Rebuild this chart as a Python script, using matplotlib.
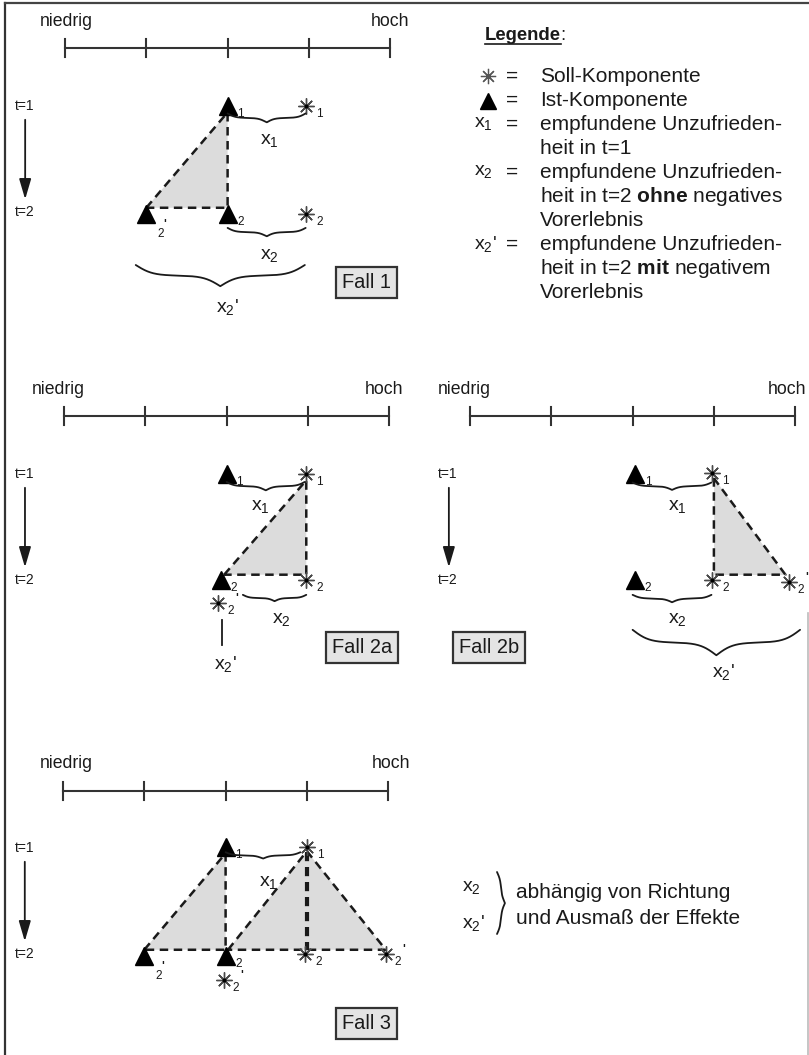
import numpy as np
import matplotlib
matplotlib.use("Agg")
import matplotlib.pyplot as plt

plt.rcParams['font.family'] = ['Liberation Sans', 'DejaVu Sans']
plt.rcParams['mathtext.fontset'] = 'custom'
plt.rcParams['mathtext.rm'] = 'Liberation Sans'
plt.rcParams['mathtext.it'] = 'Liberation Sans'
plt.rcParams['mathtext.bf'] = 'Liberation Sans:bold'

# ---------------- data ----------------
SCALE_TICKS = [0, 1, 2, 3, 4]
SCALE_LOW, SCALE_HIGH = "niedrig", "hoch"
TIME_LABELS = ["t=1", "t=2"]

# Fall 1
F1_IST_X = [2.0, 2.0, 1.0]
F1_IST_T = [1.0, 2.02, 2.02]
F1_IST_SUB = ["1", "2", "2'"]
F1_SOLL_X = [2.97, 2.97]
F1_SOLL_T = [1.0, 2.02]
F1_SOLL_SUB = ["1", "2"]
F1_AREA_X = [[1.0, 2.0, 2.0]]
F1_AREA_T = [[1.96, 1.06, 1.96]]
F1_BRACES = [(2.0, 2.96, 1.07, 0.085), (2.0, 2.96, 2.15, 0.08), (0.87, 2.95, 2.5, 0.2)]
F1_BRACE_LBL = ["x_1", "x_2", "x_2'"]
F1_BRACE_LBL_X = [2.52, 2.52, 2.0]
F1_BRACE_LBL_T = [1.33, 2.415, 2.9]

# Fall 2a
F2A_IST_X = [2.0, 1.93]
F2A_IST_T = [1.0, 2.0]
F2A_IST_SUB = ["1", "2"]
F2A_SOLL_X = [2.98, 2.98, 1.9]
F2A_SOLL_T = [1.0, 2.0, 2.22]
F2A_SOLL_SUB = ["1", "2", "2'"]
F2A_AREA_X = [[1.97, 2.98, 2.98]]
F2A_AREA_T = [[1.95, 1.06, 1.95]]
F2A_BRACES = [(2.0, 2.96, 1.075, 0.08), (2.2, 2.98, 2.14, 0.06)]
F2A_BRACE_LBL = ["x_1", "x_2", "x_2'"]
F2A_BRACE_LBL_X = [2.42, 2.67, 1.99]
F2A_BRACE_LBL_T = [1.31, 2.37, 2.79]
F2A_STEM_X = [1.94, 1.94]
F2A_STEM_T = [2.38, 2.61]

# Fall 2b
F2B_IST_X = [2.03, 2.03]
F2B_IST_T = [1.0, 2.0]
F2B_IST_SUB = ["1", "2"]
F2B_SOLL_X = [2.98, 2.98, 3.92]
F2B_SOLL_T = [0.99, 2.0, 2.02]
F2B_SOLL_SUB = ["1", "2", "2'"]
F2B_AREA_X = [[3.0, 3.0, 3.88]]
F2B_AREA_T = [[1.04, 1.95, 1.95]]
F2B_BRACES = [(2.0, 2.97, 1.08, 0.07), (2.0, 2.97, 2.14, 0.07), (2.0, 4.06, 2.47, 0.24)]
F2B_BRACE_LBL = ["x_1", "x_2", "x_2'"]
F2B_BRACE_LBL_X = [2.55, 2.55, 3.12]
F2B_BRACE_LBL_T = [1.31, 2.37, 2.87]

# Fall 3
F3_IST_X = [2.0, 1.0, 2.0]
F3_IST_T = [0.99, 2.02, 2.02]
F3_IST_SUB = ["1", "2'", "2"]
F3_SOLL_X = [3.0, 2.98, 3.97, 1.98]
F3_SOLL_T = [0.99, 2.0, 2.0, 2.25]
F3_SOLL_SUB = ["1", "2", "2'", "2'"]
F3_AREA_X = [[1.0, 2.0, 2.0], [2.03, 3.0, 3.97]]
F3_AREA_T = [[1.96, 1.05, 1.96], [1.96, 1.03, 1.96]]
F3_THICK_X = [3.0, 3.0]
F3_THICK_T = [1.04, 1.96]
F3_BRACES = [(2.0, 2.92, 1.04, 0.06)]
F3_BRACE_LBL = ["x_1"]
F3_BRACE_LBL_X = [2.53]
F3_BRACE_LBL_T = [1.33]

LEGEND_TITLE = "Legende"
LEGEND_KEYS = ["soll", "ist", "x_1", "", "x_2", "", "", "x_2'", "", ""]
LEGEND_TEXT = ["= Soll-Komponente", "= Ist-Komponente", "= empfundene Unzufrieden-",
               "heit in t=1", "= empfundene Unzufrieden-",
               r"heit in t=2 $\mathbf{ohne}$ negatives", "Vorerlebnis",
               "= empfundene Unzufrieden-", r"heit in t=2 $\mathbf{mit}$ negativem",
               "Vorerlebnis"]
F3_NOTE_KEYS = ["x_2", "x_2'"]
F3_NOTE_TEXT = ["abhängig von Richtung", "und Ausmaß der Effekte"]

# ---------------- style ----------------
W, H = 809, 1055
U = 81.3      # px per scale unit
T = 106.0     # px per time step
INK = '#1a1a1a'
FILL = '#dcdcdc'
STAR_C = '#4a4a4a'
XL, XR = -0.75, 4.35
YT, YB = -0.05, 3.05

fig = plt.figure(figsize=(W / 100, H / 100), dpi=100)
bg = fig.add_axes([0, 0, 1, 1])
bg.set_xlim(0, W)
bg.set_ylim(H, 0)
bg.axis('off')


def xlabel_str(s):
    if s.endswith("'"):
        return r"$\mathregular{%s}$'" % s[:-1]
    return r"$\mathregular{%s}$" % s


def brace(ax, a0, a1, c, h, vertical=False, beta=20, lw=1.3):
    n = 200
    u = np.linspace(0, 0.5, n)
    half = 1 / (1 + np.exp(-beta * (u - u[0]))) + 1 / (1 + np.exp(-beta * (u - u[-1])))
    v = np.concatenate([half, half[-2::-1]]) - 0.5
    s = np.linspace(0, 1, 2 * n - 1)
    along = a0 + (a1 - a0) * s
    across = c + h * v
    if vertical:
        ax.plot(across, along, color=INK, lw=lw, solid_capstyle='round')
    else:
        ax.plot(along, across, color=INK, lw=lw, solid_capstyle='round')


def draw_ist(ax, x, t, ms=12.5):
    ax.plot(x, t, marker='^', ls='none', ms=ms, color='black', mec='black')


def draw_soll(ax, x, t, ms=11.5):
    ax.plot(x, t, marker=(8, 2, 0), ls='none', ms=ms, color=STAR_C, mew=1.0)
    ax.plot(x, t, marker='o', ls='none', ms=1.8, color='black')


def sub_label(ax, x, t, s, kind):
    fs = 8.5
    if s.endswith("'"):
        if kind == 'ist':
            o2, op = (14, -20), (18, -11)
        else:
            o2, op = (12, -8), (18, 4)
        ax.annotate(s[:-1], (x, t), xytext=o2, textcoords='offset pixels',
                    ha='center', va='center', fontsize=fs, color=INK)
        ax.annotate("'", (x, t), xytext=op, textcoords='offset pixels',
                    ha='center', va='center', fontsize=fs, color=INK, fontweight='bold')
    else:
        ax.annotate(s, (x, t), xytext=(13, -8), textcoords='offset pixels',
                    ha='center', va='center', fontsize=fs, color=INK)


def panel(x0, t1, low_x, high_x, tlab_x, arrow_x, scale_t):
    left = x0 + XL * U
    right = x0 + XR * U
    top = t1 + (YT - 1) * T
    bottom = t1 + (YB - 1) * T
    ax = fig.add_axes([left / W, 1 - bottom / H, (right - left) / W, (bottom - top) / H])
    ax.set_xlim(XL, XR)
    ax.set_ylim(YB, YT)
    ax.axis('off')
    ax.patch.set_alpha(0)
    # scale
    ax.plot([SCALE_TICKS[0], SCALE_TICKS[-1]], [scale_t, scale_t], color='#333333', lw=1.5)
    for k in SCALE_TICKS:
        ax.plot([k, k], [scale_t - 0.085, scale_t + 0.085], color='#333333', lw=1.5)
    ax.text(low_x, 0.2, SCALE_LOW, ha='left', va='center', fontsize=12.7, color=INK)
    ax.text(high_x, 0.2, SCALE_HIGH, ha='right', va='center', fontsize=12.7, color=INK)
    ax.text(tlab_x, 1.0, TIME_LABELS[0], ha='left', va='center', fontsize=10, color=INK)
    ax.text(tlab_x, 2.0, TIME_LABELS[1], ha='left', va='center', fontsize=10, color=INK)
    ax.annotate('', xy=(arrow_x, 1.88), xytext=(arrow_x, 1.13),
                arrowprops=dict(arrowstyle='-|>,head_width=0.28,head_length=0.95',
                                lw=1.3, color=INK, mutation_scale=13, shrinkA=0, shrinkB=0))
    return ax


def areas(ax, ax_list, at_list):
    for xs, ts in zip(ax_list, at_list):
        ax.fill(xs, ts, color=FILL, lw=0, zorder=0)
        xx = list(xs) + [xs[0]]
        tt = list(ts) + [ts[0]]
        ax.plot(xx, tt, color=INK, lw=1.8, ls=(0, (3.4, 2.2)), zorder=1)


def markers(ax, ix, it, isub, sx, st, ssub):
    for x, t, s in zip(ix, it, isub):
        draw_ist(ax, x, t)
        sub_label(ax, x, t, s, 'ist')
    for x, t, s in zip(sx, st, ssub):
        draw_soll(ax, x, t)
        sub_label(ax, x, t, s, 'soll')


def braces(ax, blist, lbls, lx, lt):
    for (a0, a1, c, h) in blist:
        brace(ax, a0, a1, c, h)
    for s, x, t in zip(lbls, lx, lt):
        ax.text(x, t, xlabel_str(s), ha='center', va='center', fontsize=14, color=INK)


def case_box(ax, x, t, label):
    ax.text(x, t, label, ha='center', va='center', fontsize=14.4, color=INK,
            bbox=dict(boxstyle='square,pad=0.3', fc='#e4e4e4', ec='#333333', lw=1.6))


# ---------------- frame ----------------
bg.plot([5, 5], [3, H], color='#333333', lw=1.6)
bg.plot([5, W], [3, 3], color='#444444', lw=1.6)
bg.plot([808, 808], [613, H], color='#bbbbbb', lw=1.2)

# ---------------- Fall 1 ----------------
a1 = panel(65, 106, -0.31, 4.24, -0.615, -0.49, 0.453)
areas(a1, F1_AREA_X, F1_AREA_T)
markers(a1, F1_IST_X, F1_IST_T, F1_IST_SUB, F1_SOLL_X, F1_SOLL_T, F1_SOLL_SUB)
braces(a1, F1_BRACES, F1_BRACE_LBL, F1_BRACE_LBL_X, F1_BRACE_LBL_T)
case_box(a1, 3.71, 2.665, "Fall 1")

# ---------------- Fall 2a ----------------
a2 = panel(64, 474, -0.39, 4.17, -0.6, -0.48, 0.453)
areas(a2, F2A_AREA_X, F2A_AREA_T)
markers(a2, F2A_IST_X, F2A_IST_T, F2A_IST_SUB, F2A_SOLL_X, F2A_SOLL_T, F2A_SOLL_SUB)
braces(a2, F2A_BRACES, F2A_BRACE_LBL, F2A_BRACE_LBL_X, F2A_BRACE_LBL_T)
a2.plot(F2A_STEM_X, F2A_STEM_T, color=INK, lw=1.3)
case_box(a2, 3.67, 2.64, "Fall 2a")

# ---------------- Fall 2b ----------------
a3 = panel(470, 474, -0.39, 4.14, -0.39, -0.26, 0.453)
areas(a3, F2B_AREA_X, F2B_AREA_T)
markers(a3, F2B_IST_X, F2B_IST_T, F2B_IST_SUB, F2B_SOLL_X, F2B_SOLL_T, F2B_SOLL_SUB)
braces(a3, F2B_BRACES, F2B_BRACE_LBL, F2B_BRACE_LBL_X, F2B_BRACE_LBL_T)
case_box(a3, 0.23, 2.64, "Fall 2b")

# ---------------- Fall 3 ----------------
a4 = panel(63, 848, -0.28, 4.27, -0.59, -0.47, 0.46)
areas(a4, F3_AREA_X, F3_AREA_T)
a4.plot(F3_THICK_X, F3_THICK_T, color=INK, lw=3.0, ls=(0, (2.2, 1.4)), zorder=1)
markers(a4, F3_IST_X, F3_IST_T, F3_IST_SUB, F3_SOLL_X, F3_SOLL_T, F3_SOLL_SUB)
braces(a4, F3_BRACES, F3_BRACE_LBL, F3_BRACE_LBL_X, F3_BRACE_LBL_T)
case_box(a4, 3.73, 2.66, "Fall 3")

# Fall 3 note
for s, y in zip(F3_NOTE_KEYS, [887, 923]):
    bg.text(462, y, xlabel_str(s), ha='left', va='center', fontsize=14, color=INK)
brace(bg, 872, 934, 497, 8, vertical=True, beta=14)
for s, y in zip(F3_NOTE_TEXT, [893, 918]):
    bg.text(516, y, s, ha='left', va='center', fontsize=15, color=INK)

# ---------------- legend ----------------
tt = bg.text(485, 36, LEGEND_TITLE, ha='left', va='center', fontsize=13.3,
             fontweight='bold', color=INK)
fig.canvas.draw()
bb = tt.get_window_extent(renderer=fig.canvas.get_renderer())
x_end = bb.x1
bg.plot([485, x_end], [44, 44], color=INK, lw=1.2)
bg.text(x_end - 1, 36, ":", ha='left', va='center', fontsize=13.3, color=INK)

for i, (k, s) in enumerate(zip(LEGEND_KEYS, LEGEND_TEXT)):
    y = 76 + 24 * i
    if k == "soll":
        bg.plot(488, y, marker=(8, 2, 0), ms=11, color='#555555', mew=0.9, ls='none')
    elif k == "ist":
        bg.plot(488, y + 1, marker='^', ms=12, color='black', ls='none')
    elif k:
        bg.text(474, y, xlabel_str(k), ha='left', va='center', fontsize=14, color=INK)
    if s.startswith("="):
        bg.text(506, y, "=", ha='left', va='center', fontsize=15, color=INK)
        bg.text(540, y, s[2:], ha='left', va='center', fontsize=15, color=INK)
    else:
        bg.text(540, y, s, ha='left', va='center', fontsize=15, color=INK)

fig.savefig("out.png", dpi=100)
